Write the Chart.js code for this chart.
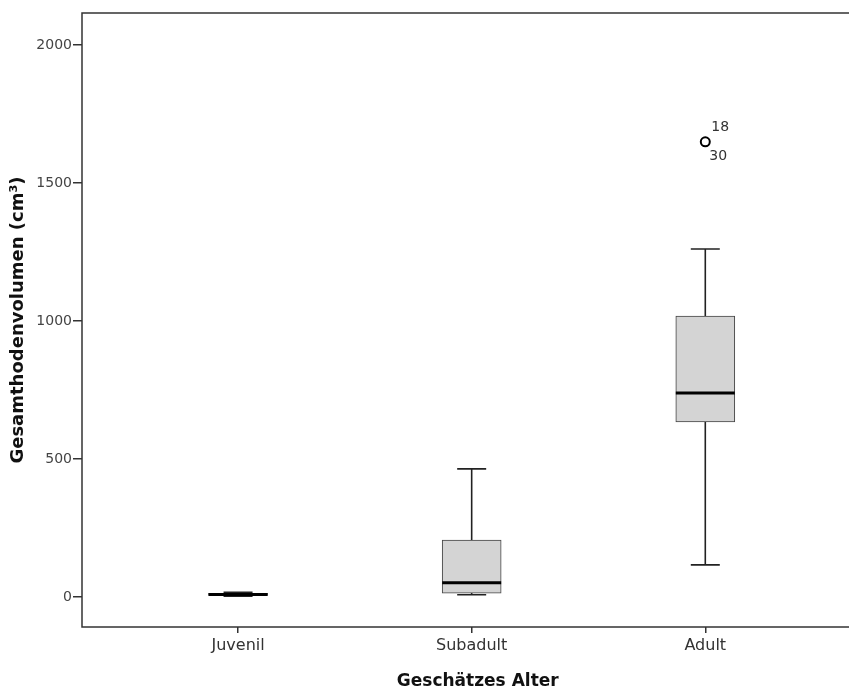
<!DOCTYPE html>
<html>
<head>
<meta charset="utf-8">
<script src="https://cdn.jsdelivr.net/npm/chart.js@4/dist/chart.umd.min.js"></script>
<style>
  html, body { margin: 0; padding: 0; background: #fff; overflow: hidden; }
  canvas { display: block; }
</style>
</head>
<body>
<canvas id="myChart" width="880" height="692"></canvas>
<script>
// box plot values
let categories = ['Juvenil', 'Subadult', 'Adult']
let mins    = [3, 8, 116]
let q1s     = [5, 14, 634]
let medians = [9, 51, 739]
let q3s     = [13, 206, 1018]
let maxs    = [17, 464, 1261]
let outlierCat = [3]
let outlierVal = [1649]
let outlierIds = [['18', '30']]
let yTicks = [0, 500, 1000, 1500, 2000]

const boxes = categories.map((c, i) => ({ x: i + 1, y: [q1s[i], q3s[i]] }))
const outliers = outlierCat.map((c, i) => ({ x: c, y: outlierVal[i] }))

// whiskers, caps, medians, frame and outlier ids
const boxExtras = {
    id: 'boxExtras',
    beforeDatasetsDraw(chart) {
        const ctx = chart.ctx, x = chart.scales.x, y = chart.scales.y
        ctx.save()
        ctx.strokeStyle = '#222'
        ctx.lineWidth = 1.6
        categories.forEach((c, i) => {
            let cx = x.getPixelForValue(i + 1)
            ctx.beginPath()
            ctx.moveTo(cx, y.getPixelForValue(q3s[i]))
            ctx.lineTo(cx, y.getPixelForValue(maxs[i]))
            ctx.moveTo(cx, y.getPixelForValue(q1s[i]))
            ctx.lineTo(cx, y.getPixelForValue(mins[i]))
            ctx.moveTo(cx - 14.5, y.getPixelForValue(maxs[i]))
            ctx.lineTo(cx + 14.5, y.getPixelForValue(maxs[i]))
            ctx.moveTo(cx - 14.5, y.getPixelForValue(mins[i]))
            ctx.lineTo(cx + 14.5, y.getPixelForValue(mins[i]))
            ctx.stroke()
        })
        ctx.restore()
    },
    afterDatasetsDraw(chart) {
        const ctx = chart.ctx, x = chart.scales.x, y = chart.scales.y
        const a = chart.chartArea
        ctx.save()
        ctx.strokeStyle = '#000'
        ctx.lineWidth = 3
        categories.forEach((c, i) => {
            let cx = x.getPixelForValue(i + 1)
            let my = y.getPixelForValue(medians[i])
            ctx.beginPath()
            ctx.moveTo(cx - 29.5, my)
            ctx.lineTo(cx + 29.5, my)
            ctx.stroke()
        })
        // frame
        ctx.strokeStyle = '#333'
        ctx.lineWidth = 1.5
        ctx.strokeRect(a.left, a.top, a.right - a.left, a.bottom - a.top)
        // outlier case numbers
        ctx.fillStyle = '#333'
        ctx.font = '14px "DejaVu Sans"'
        ctx.textAlign = 'left'
        ctx.textBaseline = 'middle'
        outlierCat.forEach((c, i) => {
            let px = x.getPixelForValue(c)
            let py = y.getPixelForValue(outlierVal[i])
            ctx.fillText(outlierIds[i][0], px + 6, py - 15)
            ctx.fillText(outlierIds[i][1], px + 4, py + 14)
        })
        ctx.restore()
    }
}

const data = {
    datasets: [{
        type: 'scatter',
        data: outliers,
        pointStyle: 'circle',
        pointRadius: 4.5,
        borderWidth: 2,
        borderColor: '#000',
        backgroundColor: '#fff'
    }, {
        type: 'bar',
        data: boxes,
        backgroundColor: '#d4d4d4',
        borderColor: '#444',
        borderWidth: 1,
        borderSkipped: false,
        barThickness: 59
    }]
}

const config = {
    type: 'bar',
    data: data,
    options: {
        responsive: false,
        animation: false,
        layout: { padding: { top: 13, left: 0, right: 0, bottom: 0 } },
        plugins: { legend: { display: false }, tooltip: { enabled: false } },
        scales: {
            x: {
                type: 'linear',
                offset: false,
                min: 0.332,
                max: 3.72,
                afterBuildTicks: (s) => { s.ticks = categories.map((c, i) => ({ value: i + 1 })) },
                afterFit: (s) => { s.height = 65 },
                grid: { display: true, offset: false, drawOnChartArea: false, drawTicks: true, tickLength: 6, color: '#333', lineWidth: 1.5 },
                border: { display: false },
                ticks: {
                    callback: (v) => categories[v - 1],
                    color: '#333',
                    padding: 3,
                    maxRotation: 0,
                    font: { family: 'DejaVu Sans', size: 16 }
                },
                title: {
                    display: true,
                    text: 'Geschätzes Alter',
                    color: '#111',
                    padding: { top: 0, bottom: 0 },
                    font: { family: 'DejaVu Sans', size: 17, weight: 'bold' }
                }
            },
            y: {
                min: -109,
                max: 2116,
                afterBuildTicks: (s) => { s.ticks = yTicks.map(v => ({ value: v })) },
                afterFit: (s) => { s.width = 82 },
                grid: { drawOnChartArea: false, drawTicks: true, tickLength: 9, color: '#333', lineWidth: 1.5 },
                border: { display: false },
                ticks: {
                    callback: (v) => String(v),
                    color: '#444',
                    padding: 1,
                    font: { family: 'DejaVu Sans', size: 14 }
                },
                title: {
                    display: true,
                    text: 'Gesamthodenvolumen (cm³)',
                    color: '#111',
                    padding: { top: 8, bottom: 0 },
                    font: { family: 'DejaVu Sans', size: 18, weight: 'bold' }
                }
            }
        }
    },
    plugins: [boxExtras]
}

var ctx = document.getElementById('myChart')
var boxChart = new Chart(ctx, config)
</script>
</body>
</html>
